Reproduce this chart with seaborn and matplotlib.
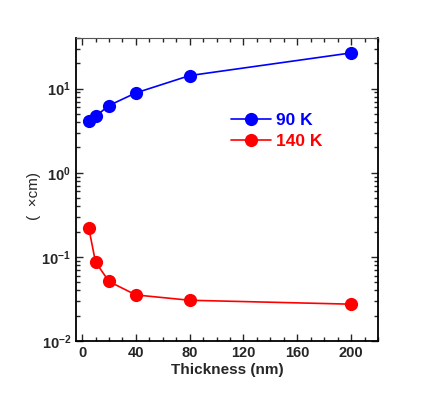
import numpy as np
import pandas as pd
import matplotlib
matplotlib.use('Agg')
import matplotlib.pyplot as plt
import seaborn as sns

# Data
thickness = [5, 10, 20, 40, 80, 200]
rho_90K = [4.12, 4.68, 6.3, 8.9, 14.3, 26.6]
rho_140K = [0.22, 0.087, 0.051, 0.0353, 0.0305, 0.0274]
series_names = ['90 K', '140 K']
series_colors = ['#0000ff', '#ff0000']
x_ticks = [0, 40, 80, 120, 160, 200]

df = pd.DataFrame({
    'thickness': thickness * 2,
    'rho': rho_90K + rho_140K,
    'T': [series_names[0]] * len(thickness) + [series_names[1]] * len(thickness),
})

sns.set_style('ticks')
plt.rcParams['font.family'] = ['Liberation Sans', 'DejaVu Sans']

fig = plt.figure(figsize=(4.36, 4.17), dpi=100)
ax = fig.add_axes([76 / 436, 1 - 341 / 417, (378 - 76) / 436, (341 - 38) / 417])

sns.lineplot(data=df, x='thickness', y='rho', hue='T', palette=series_colors,
             hue_order=series_names, marker='o', markersize=9.5, markeredgewidth=0,
             linewidth=1.2, ax=ax, legend=False)

ax.set_yscale('log')
ax.set_xlim(-4.5, 220)
ax.set_ylim(0.01, 40)
ax.set_xticks(x_ticks)
ax.set_xticks(np.arange(0, 221, 10), minor=True)
ax.set_xticklabels([str(t) for t in x_ticks], fontweight='bold', fontsize=10.5)
for lab in ax.get_yticklabels():
    lab.set_fontweight('bold')
    lab.set_fontsize(10.5)
ax.tick_params(which='both', direction='in', top=True, right=True, width=1)
ax.tick_params(which='major', length=5)
ax.tick_params(which='minor', length=3)
for side in ['left', 'bottom', 'right']:
    ax.spines[side].set_linewidth(1.3)
    ax.spines[side].set_color('black')
ax.spines['top'].set_color('#555555')

ax.set_xlabel('Thickness (nm)', fontweight='bold', fontsize=11, labelpad=2)
ax.set_ylabel('(  \u00d7cm)', fontsize=11)
ax.yaxis.set_label_coords(-0.115, 0.48)

handles = [plt.Line2D([], [], color=c, marker='o', markersize=9.5, markeredgewidth=0,
                      linewidth=1.2) for c in series_colors]
leg = ax.legend(handles, series_names, loc='upper left', bbox_to_anchor=(0.463, 0.805),
                frameon=False, handlelength=2.3, handletextpad=0.25, labelspacing=0.35,
                prop={'weight': 'bold', 'size': 12.5})
for txt, c in zip(leg.get_texts(), series_colors):
    txt.set_color(c)

fig.savefig('out.png', dpi=100)
